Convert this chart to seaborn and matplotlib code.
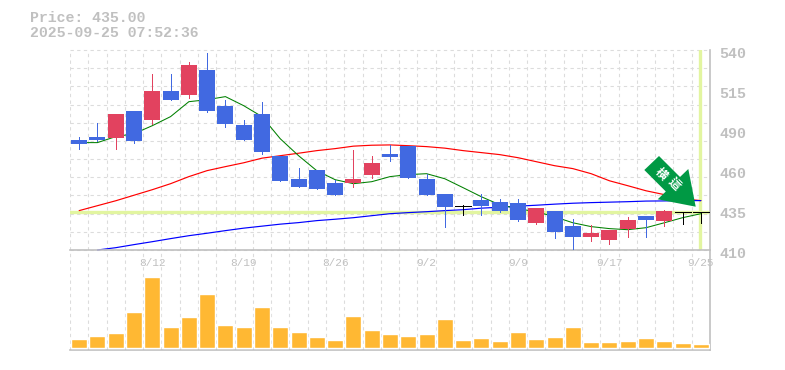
import matplotlib
matplotlib.use("Agg")
import matplotlib.pyplot as plt
import seaborn as sns
from matplotlib.patches import Polygon
from matplotlib.transforms import ScaledTranslation
import pandas as pd

# precios
opens = [481.7, 483.6, 483.0, 500.5, 494.7, 513.5, 510.9, 527.2, 503.8, 491.4, 498.6, 471.3,
         456.3, 462.2, 453.7, 453.7, 459.0, 472.6, 477.8, 456.3, 446.6, 438.6, 442.7, 441.4,
         440.7, 427.8, 435.6, 425.8, 418.6, 416.7, 423.9, 432.3, 429.0, 435.0, 435.0]
closes = [479.1, 481.7, 498.6, 481.0, 513.5, 507.7, 530.4, 500.5, 492.1, 481.7, 473.9, 455.0,
          451.1, 449.8, 445.9, 456.3, 466.7, 470.6, 457.0, 445.9, 438.1, 438.6, 438.8, 435.6,
          429.7, 437.5, 421.9, 418.6, 421.3, 423.2, 429.7, 429.7, 435.6, 435.0, 435.0]
highs = [483.6, 492.7, 498.6, 500.5, 524.6, 524.6, 532.4, 538.2, 507.7, 494.7, 506.4, 471.3,
         463.5, 462.2, 455.7, 475.2, 471.3, 478.5, 477.8, 459.6, 446.6, 439.4, 446.6, 443.3,
         443.3, 437.5, 435.6, 430.3, 426.5, 423.2, 431.7, 432.3, 436.2, 435.0, 435.0]
lows = [475.9, 481.0, 475.9, 479.7, 492.1, 507.7, 509.0, 499.9, 490.1, 481.7, 472.6, 455.0,
        451.1, 449.8, 445.9, 451.1, 457.0, 468.0, 457.0, 445.9, 425.2, 433.0, 433.0, 434.9,
        429.0, 427.1, 418.0, 410.8, 416.0, 414.1, 418.6, 418.6, 425.8, 427.1, 427.8]
ma_short = [479.8, 479.8, 483.7, 485.6, 490.8, 496.7, 506.4, 507.7, 509.7, 503.8, 496.7, 482.3,
            471.3, 461.5, 455.7, 453.1, 454.4, 457.7, 459.0, 459.6, 456.3, 450.5, 444.6, 439.4,
            436.8, 434.9, 431.6, 427.7, 425.2, 423.9, 423.2, 424.5, 427.7, 431.0, 433.6]
ma_mid = [435.6, 438.8, 442.0, 445.6, 449.2, 453.1, 457.7, 461.6, 464.2, 466.7, 469.7, 471.3,
          472.9, 474.6, 475.9, 477.5, 478.1, 478.3, 477.8, 477.2, 476.2, 474.6, 473.3, 472.0,
          470.0, 467.4, 464.8, 462.9, 459.6, 455.0, 451.8, 448.5, 446.0, 443.3, 442.1]
ma_long = [None, 410.0, 411.5, 413.5, 415.4, 417.4, 419.3, 420.9, 422.6, 424.2, 425.5, 426.8,
           427.8, 429.1, 430.0, 431.0, 432.3, 433.6, 434.3, 434.9, 435.6, 436.2, 437.2, 437.8,
           438.5, 439.1, 439.8, 440.4, 440.8, 441.1, 441.4, 441.8, 441.9, 442.1, 442.1]
volumes = [9, 12, 15, 36, 71, 21, 31, 54, 23, 21, 41, 21, 16, 11, 8, 32, 18, 14, 12, 14, 29, 8,
           10, 7, 16, 9, 11, 21, 6, 6, 7, 10, 7, 5, 4]
date_ticks = [4, 9, 14, 19, 24, 29, 34]
date_labels = ["8/12", "8/19", "8/26", "9/2", "9/9", "9/17", "9/25"]
price_ticks = [540, 514, 488, 462, 436, 410]
price_labels = ["540", "515", "490", "460", "435", "410"]
last_price = 435.0

sns.set_theme(style="white")
plt.rcParams["font.family"] = ["Liberation Mono", "DejaVu Sans", "Noto Sans CJK JP"]

W, H = 785, 370
GRIS = "#c0c0c0"
ROJO = "#e2425f"
AZUL = "#4169e1"
NARANJA = "#ffb833"
AMARILLO = "#e2f5a0"
VERDE = "#009944"
PUNTEADO = (0, (3, 3))

fig = plt.figure(figsize=(W / 100, H / 100), dpi=100, facecolor="white")
ax = fig.add_axes([70 / W, 1 - 250 / H, 640 / W, 200 / H])
ax_v = fig.add_axes([70 / W, 1 - 350 / H, 640 / W, 100 / H])

n = len(opens)
xs = list(range(n))
df = pd.DataFrame({"x": xs, "vol": volumes})

# grilla punteada en cada casillero
for a in (ax, ax_v):
    a.set_xlim(-0.5, n - 0.5)
    a.set_facecolor("none")
    for i in range(n):
        a.axvline(i - 0.5, color="#dcdcdc", lw=0.8, ls=PUNTEADO, zorder=0)
ax.set_ylim(410, 540)
for k in range(12):
    ax.axhline(410 + k * 130 / 11, color="#dcdcdc", lw=0.8, ls=PUNTEADO, zorder=0, clip_on=False)

# bandas del precio actual
ax.axhline(last_price, color=AMARILLO, lw=2.4, zorder=1)
ax.axvline(n - 1.05, color=AMARILLO, lw=2.4, zorder=1)

# medias moviles
sns.lineplot(x=xs, y=ma_mid, color="red", lw=0.85, ax=ax, zorder=2, clip_on=False)
sns.lineplot(x=xs, y=ma_long, color="blue", lw=0.85, ax=ax, zorder=2, clip_on=False)
sns.lineplot(x=xs, y=ma_short, color="green", lw=0.75, ax=ax, zorder=2)

# velas
for i in xs:
    if opens[i] == closes[i]:
        c = "black"
    elif closes[i] > opens[i]:
        c = ROJO
    else:
        c = AZUL
    ax.vlines(i, lows[i], highs[i], color=c, lw=0.72, zorder=3, antialiased=False)
    if c == "black":
        ax.hlines(opens[i], i - 0.44, i + 0.44, color=c, lw=0.72, zorder=3, antialiased=False)
    else:
        ax.bar(i, abs(closes[i] - opens[i]), bottom=min(opens[i], closes[i]), width=0.875,
               color=c, lw=0, zorder=3)

# volumen
sns.barplot(data=df, x="x", y="vol", color=NARANJA, width=0.875, saturation=1, ax=ax_v, zorder=3)
ax_v.set_xlim(-0.5, n - 0.5)
ax_v.set_ylim(-2, 98)
ax_v.set_xlabel("")
ax_v.set_ylabel("")
ax_v.set_yticks([])
ax_v.set_xticks([])

ax.set_xticks(date_ticks)
ax.set_xticklabels(date_labels, color=GRIS, fontsize=8)
ax.set_yticks(price_ticks)
ax.set_yticklabels(price_labels, color=GRIS, fontsize=10.8, fontweight="bold")
ax.yaxis.tick_right()
ax.tick_params(axis="y", length=0, pad=6.5)
ax.tick_params(axis="x", length=0, pad=5.5)
# las etiquetas de precio van un poco por debajo de su linea
baja = ScaledTranslation(0, -3 / 100, fig.dpi_scale_trans)
for t in ax.get_yticklabels():
    t.set_transform(t.get_transform() + baja)

for a in (ax, ax_v):
    for s in ("top", "left"):
        a.spines[s].set_visible(False)
    for s in ("bottom", "right"):
        a.spines[s].set_color(GRIS)
        a.spines[s].set_linewidth(1.2)

fig.text(30 / W, 1 - 18 / H, "Price: 435.00", color=GRIS, fontsize=10.7, fontweight="bold", va="center")
fig.text(30 / W, 1 - 33 / H, "2025-09-25 07:52:36", color=GRIS, fontsize=10.7, fontweight="bold", va="center")

# flecha de tendencia, en pixeles de la figura
flecha = [(659, 156), (644.3, 170), (665.8, 191.5), (657.7, 199.3), (695.7, 206.7), (688.3, 169), (680, 177)]
fig.add_artist(Polygon([(px / W, 1 - py / H) for px, py in flecha], closed=True,
                       transform=fig.transFigure, fc=VERDE, ec="none", zorder=5))
for letra, px, py in [("横", 661.5, 173.5), ("這", 674, 184)]:
    fig.text(px / W, 1 - py / H, letra, color="white", fontsize=8.5, rotation=-45, ha="center", va="center",
             rotation_mode="anchor", family=["Noto Sans CJK JP"], fontweight="bold", zorder=6)

fig.savefig("out.png", dpi=100)
